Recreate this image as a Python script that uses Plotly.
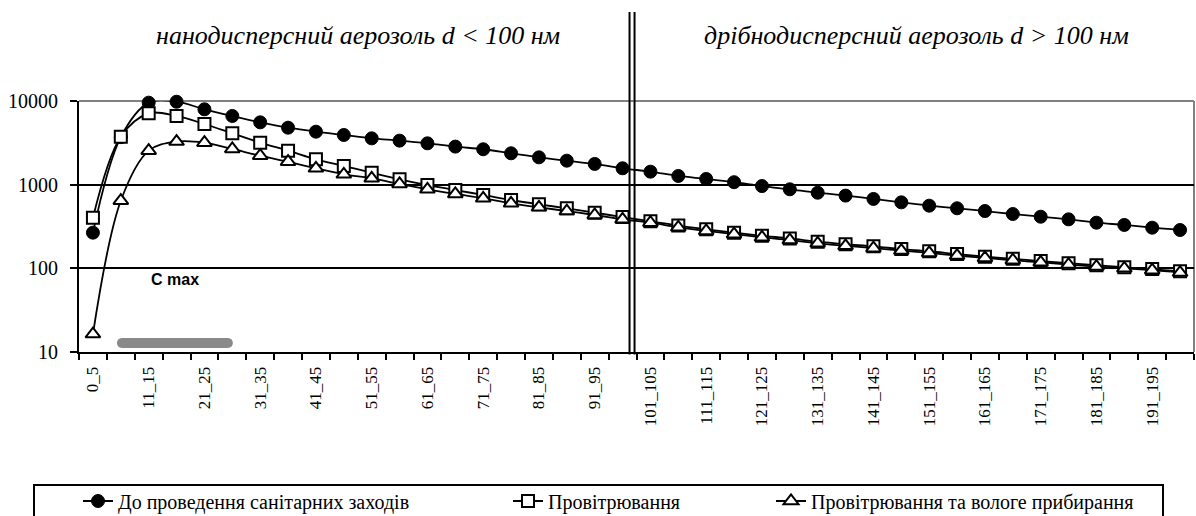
import plotly.graph_objects as go

categories = ["0_5", "6_10", "11_15", "16_20", "21_25", "26_30", "31_35", "36_40",
              "41_45", "46_50", "51_55", "56_60", "61_65", "66_70", "71_75", "76_80",
              "81_85", "86_90", "91_95", "96_100", "101_105", "106_110", "111_115",
              "116_120", "121_125", "126_130", "131_135", "136_140", "141_145",
              "146_150", "151_155", "156_160", "161_165", "166_170", "171_175",
              "176_180", "181_185", "186_190", "191_195", "196_200"]

before = [267, 3700, 9550, 9800, 7960, 6620, 5560, 4800, 4300, 3925,
          3580, 3360, 3120, 2850, 2650, 2370, 2120, 1935, 1770, 1570,
          1430, 1270, 1170, 1070, 963, 880, 801, 740, 675, 615,
          561, 522, 484, 446, 414, 385, 351, 330, 306, 287]

ventilation = [403, 3750, 7130, 6620, 5310, 4110, 3180, 2550, 2010, 1670,
               1390, 1160, 990, 863, 753, 656, 582, 522, 463, 410,
               365, 324, 293, 267, 245, 228, 208, 194, 183, 170,
               160, 148, 138, 130, 122, 115, 109, 103, 98, 92]

vent_cleaning = [16.4, 643, 2550, 3270, 3180, 2670, 2220, 1880, 1570, 1330,
                 1190, 1020, 880, 774, 687, 599, 536, 484, 434, 385,
                 351, 309, 280, 256, 235, 218, 199, 186, 174, 163,
                 153, 142, 133, 125, 118, 111, 105, 100, 95, 89]

series_names = ["До проведення санітарних заходів", "Провітрювання",
                "Провітрювання та вологе прибирання"]

y_tick_vals = [10, 100, 1000, 10000]
y_tick_text = ["10", "100", "1000", "10000"]

SERIF = "Liberation Serif"
W, H = 1196, 516
ML, MR, MT, MB = 79, 2, 101, 164
PW = W - ML - MR
PH = H - MT - MB


def px_x(p):
    return (p - ML) / PW


def px_y(p):
    return (H - MB - p) / PH


x_idx = list(range(len(categories)))

fig = go.Figure()

styles = [
    dict(symbol="circle", size=13, color="black", line=dict(color="black", width=1)),
    dict(symbol="square", size=12, color="white", line=dict(color="black", width=2)),
    dict(symbol="triangle-up", size=13, color="white", line=dict(color="black", width=2)),
]
legends = ["legend", "legend2", "legend3"]
for vals, name, st, lg in zip([before, ventilation, vent_cleaning], series_names, styles, legends):
    fig.add_trace(go.Scatter(
        x=x_idx, y=vals, name=name, mode="lines+markers",
        line=dict(color="black", width=1.8, shape="spline", smoothing=1),
        marker=st, cliponaxis=False, legend=lg,
    ))

legend_common = dict(orientation="h", yanchor="middle", xanchor="left",
                     y=px_y(501), bgcolor="rgba(0,0,0,0)", borderwidth=0,
                     font=dict(family=SERIF, size=20, color="black"))

fig.update_layout(
    width=W, height=H, autosize=False,
    margin=dict(l=ML, r=MR, t=MT, b=MB, autoexpand=False),
    plot_bgcolor="white", paper_bgcolor="white",
    showlegend=True,
    legend=dict(x=px_x(78), **legend_common),
    legend2=dict(x=px_x(508), **legend_common),
    legend3=dict(x=px_x(771), **legend_common),
    xaxis=dict(
        range=[-0.5, len(categories) - 0.5],
        tickmode="array", tickvals=x_idx[::2], ticktext=categories[::2],
        ticks="", tickangle=-90, ticklabelstandoff=6,
        tickfont=dict(family=SERIF, size=17, color="black"),
        showline=True, linecolor="black", linewidth=2,
        showgrid=False, zeroline=False,
        minor=dict(tickmode="array", tickvals=[i - 0.5 for i in range(len(categories) + 1)],
                   ticks="outside", ticklen=6, tickwidth=1.5, tickcolor="black",
                   showgrid=False),
    ),
    yaxis=dict(
        type="log", range=[1, 4],
        tickmode="array", tickvals=y_tick_vals, ticktext=y_tick_text,
        ticks="outside", ticklen=7, tickwidth=1.5, tickcolor="black",
        ticklabelstandoff=8,
        tickfont=dict(family=SERIF, size=20, color="black"),
        showline=True, linecolor="black", linewidth=2,
        showgrid=True, gridcolor="black", gridwidth=2, zeroline=False,
    ),
)

# gray top and right frame
fig.add_shape(type="line", xref="paper", yref="paper", x0=0, x1=1, y0=1, y1=1,
              line=dict(color="#808080", width=2), layer="between")
fig.add_shape(type="line", xref="paper", yref="paper", x0=1, x1=1, y0=0, y1=1,
              line=dict(color="#808080", width=2), layer="between")

# double divider at 100 nm
for xv in (19.25, 19.43):
    fig.add_shape(type="line", xref="x", yref="paper", x0=xv, x1=xv,
                  y0=-0.01, y1=px_y(12), line=dict(color="black", width=2), layer="above")

# region titles
fig.add_annotation(text="<i>нанодисперсний аерозоль d &lt; 100 нм</i>", xref="paper", yref="paper",
                   x=0.25, y=px_y(35), showarrow=False, xanchor="center", yanchor="middle",
                   font=dict(family=SERIF, size=26, color="black"))
fig.add_annotation(text="<i>дрібнодисперсний аерозоль d &gt; 100 нм</i>", xref="paper", yref="paper",
                   x=0.7507, y=px_y(35), showarrow=False, xanchor="center", yanchor="middle",
                   font=dict(family=SERIF, size=26, color="black"))

# C max label and gray bar
fig.add_annotation(text="<b>C max</b>", xref="x", yref="paper", x=2.94, y=px_y(279),
                   showarrow=False, xanchor="center", yanchor="middle",
                   font=dict(family="Liberation Sans", size=16, color="black"))
bx0, bx1 = 1.04, 4.84
r = 5 / (PW / len(categories))
yc, hr = px_y(343), 5 / PH
k = r * 1.333
path = (f"M {bx0},{yc + hr} L {bx1},{yc + hr} "
        f"C {bx1 + k},{yc + hr} {bx1 + k},{yc - hr} {bx1},{yc - hr} "
        f"L {bx0},{yc - hr} "
        f"C {bx0 - k},{yc - hr} {bx0 - k},{yc + hr} {bx0},{yc + hr} Z")
fig.add_shape(type="path", xref="x", yref="paper", path=path,
              fillcolor="#8a8a8a", line=dict(width=0), layer="above")

# legend frame
fig.add_shape(type="rect", xref="paper", yref="paper",
              x0=px_x(34), x1=px_x(1163), y0=px_y(485), y1=px_y(540),
              line=dict(color="black", width=2), fillcolor="rgba(0,0,0,0)")

fig.write_html("out.html")
